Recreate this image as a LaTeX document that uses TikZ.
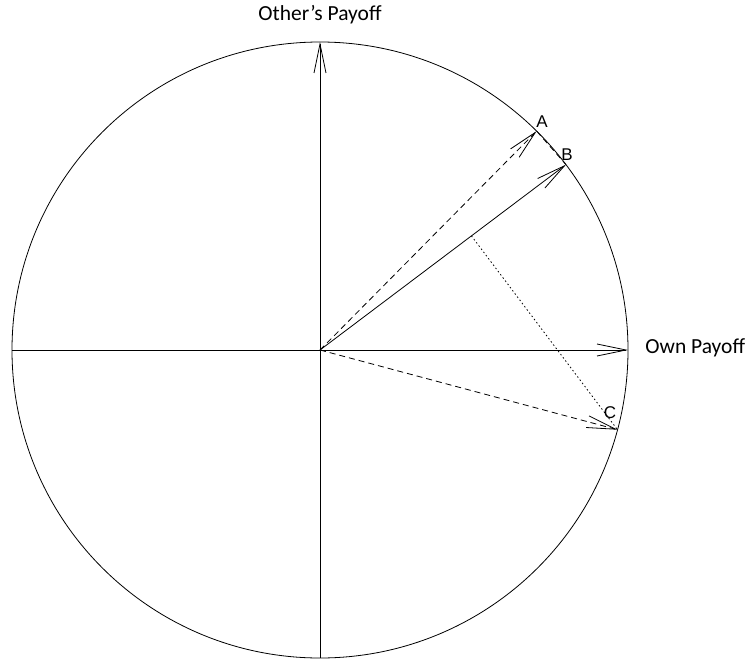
\documentclass[tikz,border=0pt]{standalone}
\usepackage{fontspec}
\setmainfont{Carlito}
\newfontfamily\ptfont{Liberation Sans}
\usetikzlibrary{arrows.meta,calc}

\begin{document}
\begin{tikzpicture}[
  x=1pt, y=-1pt,
  axislabel/.style={font=\fontsize{21.5}{24}\selectfont, inner sep=0pt},
  ptlabel/.style={font=\ptfont\fontsize{17}{19}\selectfont, inner sep=0pt},
  vec/.style={-{Straight Barb[length=29pt, width=12pt]}, line width=0.8pt},
  dashvec/.style={vec, dash pattern=on 6pt off 4pt},
  line width=0.8pt
]
\useasboundingbox (0,0) rectangle (748,659);

% unit circle and the two payoff axes
\coordinate (O) at (320,350);
\draw (O) circle[radius=308pt];
\coordinate (west) at (12,350);
\coordinate (east) at (628,350);
\coordinate (south) at (320,658);
\coordinate (north) at (320,42);
\draw[vec] (west) -- (east);
\draw[vec] (south) -- (north);

\node[axislabel, anchor=base] (other) at (320,20) {Other’s Payoff};
\node[axislabel, anchor=base west] (own) at (645,353) {Own Payoff};

% the three allocations
\coordinate (A) at ($(O)+(45.3:308pt)$);
\coordinate (B) at ($(O)+(37:308pt)$);
\coordinate (C) at ($(O)+(-15:308pt)$);

\draw[dashvec] (O) -- (A);
\draw[vec] (O) -- (B);
\draw[dashvec] (O) -- (C);
\draw[dash pattern=on 6pt off 4pt] (A) -- (B);
% projection of C onto the direction of B
\draw[dash pattern=on 1.5pt off 2.5pt] ($(O)!(C)!(B)$) -- (C);

\node[ptlabel] (lblA) at (542,122) {A};
\node[ptlabel] (lblB) at (567,155) {B};
\node[ptlabel] (lblC) at (610,413) {C};
\end{tikzpicture}
\end{document}
